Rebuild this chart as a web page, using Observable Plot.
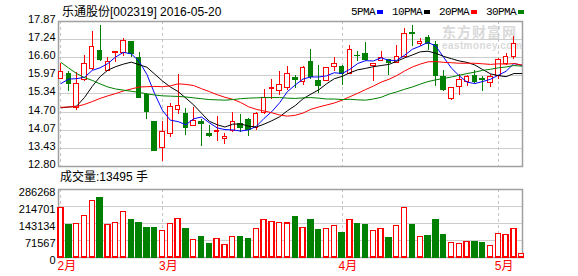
<!DOCTYPE html>
<html>
<head>
<meta charset="utf-8">
<script src="https://cdn.jsdelivr.net/npm/d3@7"></script>
<script src="https://cdn.jsdelivr.net/npm/@observablehq/plot@0.6"></script>
<style>
  body { margin: 0; background: #fff; }
  #chart { position: relative; width: 578px; height: 276px; overflow: hidden;
           font-family: "Liberation Sans", "Noto Sans CJK SC", sans-serif; color: #000; }
  #chart svg { position: absolute; left: 0; }
  .label { position: absolute; font-size: 12px; line-height: 14px; white-space: nowrap; }
  #legend { font-family: "Liberation Mono", "Noto Sans CJK SC", monospace; font-size: 11px; letter-spacing: -0.6px; }
  #legend .sw { display: inline-block; width: 6px; height: 4px; margin: 0 9px 1px 2px; vertical-align: middle; }
  #wm { position: absolute; left: 442px; top: 24px; color: #dadada; font-weight: bold; }
  #wm .cn { font-family: "Noto Sans CJK SC", sans-serif; font-size: 14px; line-height: 15px; letter-spacing: 1px; }
  #wm .en { font-family: "Liberation Sans", sans-serif; font-size: 10px; line-height: 10px; margin-top: 2px; letter-spacing: 0.4px; }
</style>
</head>
<body>
<div id="chart">
  <div id="wm"><div class="cn">东方财富网</div><div class="en">eastmoney.com</div></div>
  <div id="title" class="label" style="left:62px; top:5px;"></div>
  <div id="legend" class="label" style="left:351px; top:5px;"></div>
  <div id="volTitle" class="label" style="left:60px; top:170px;"></div>
</div>
<script>
// 乐通股份 daily K-line, 2016-02 .. 2016-05
const stockName = "乐通股份";
const stockCode = "002319";
const quoteDate = "2016-05-20";
const volumeUnit = "手";

const openPrice  = [15.87,16.03,14.83,15.84,16.20,16.83,16.15,16.76,16.78,17.14,
                    16.60,15.29,14.37,13.43,13.95,14.78,14.65,14.22,14.34,13.92,
                    14.00,13.75,14.03,14.29,14.43,14.15,14.68,15.50,15.45,15.53,
                    15.88,15.76,16.44,15.78,15.78,16.27,16.29,16.05,16.68,16.75,
                    16.31,16.48,16.52,16.43,16.64,17.46,17.10,17.30,17.04,15.94,
                    15.15,15.59,15.76,15.95,15.85,15.73,15.97,16.40,16.64,15.52];
const highPrice  = [16.41,16.11,16.09,16.69,17.53,17.72,16.62,16.82,17.28,17.18,
                    16.78,15.35,14.37,14.36,15.00,16.02,14.83,14.85,14.45,14.22,
                    14.54,13.95,14.68,14.62,14.48,14.68,15.50,15.85,16.11,16.29,
                    15.99,16.31,16.89,16.32,16.25,16.60,16.34,17.02,16.83,17.14,
                    16.40,16.81,16.55,17.02,17.63,17.74,17.28,17.39,17.18,16.17,
                    15.55,16.02,15.97,16.17,15.94,16.02,16.58,16.75,17.34,15.52];
const lowPrice   = [15.85,15.41,14.77,15.78,16.17,16.48,16.11,16.43,16.64,16.60,
                    15.18,14.45,13.33,12.96,13.80,14.62,13.89,14.21,13.51,13.80,
                    13.66,13.58,13.99,13.99,13.84,14.05,14.63,15.15,15.29,15.47,
                    15.53,15.64,15.85,15.35,15.76,16.13,15.64,16.02,16.48,16.48,
                    15.78,16.46,15.99,16.40,16.60,16.99,16.98,16.87,15.59,15.43,
                    15.12,15.29,15.61,15.70,15.43,15.55,15.85,16.34,16.55,15.52];
const closePrice = [16.09,15.68,15.69,16.37,16.99,16.51,16.46,16.81,17.18,16.75,
                    15.20,14.69,13.33,14.01,14.89,14.92,14.15,14.40,14.30,13.88,
                    14.03,13.84,14.34,14.13,14.06,14.64,15.21,15.56,15.66,16.02,
                    15.82,16.23,15.94,15.62,16.23,16.40,16.05,16.87,16.66,16.51,
                    16.37,16.60,16.43,16.64,17.42,17.43,17.14,17.07,15.97,15.47,
                    15.53,15.82,15.94,15.74,15.82,15.94,16.52,16.64,17.07,15.52];
const volume     = [209200,134700,141900,175500,238700,248400,137600,146000,192400,155800,
                    144500,122100,122100,112300,141900,162800,117900,74400,84200,54700,
                    78600,53300,87000,84200,75800,120700,158600,150200,146000,143100,
                    168400,125000,155800,113700,120700,133500,101000,158600,138900,134700,
                    112300,120700,80000,133500,209200,134700,87000,88400,155800,92600,
                    61900,57700,66100,63200,58900,49300,99800,95600,120700,13495];

// moving averages of the close (5, 10, 20, 30 days)
const ma5  = [15.70,15.86,15.87,15.92,16.16,16.25,16.40,16.63,16.79,16.74,
              16.48,16.02,15.34,14.76,14.42,14.37,14.26,14.47,14.53,14.33,
              14.15,14.09,14.08,14.04,14.08,14.20,14.48,14.72,15.03,15.42,
              15.65,15.86,15.93,15.93,15.97,16.08,16.05,16.20,16.40,16.50,
              16.49,16.60,16.51,16.51,16.69,16.90,17.01,17.14,17.01,16.62,
              16.24,15.97,15.75,15.70,15.77,15.85,15.99,16.13,16.40,16.34];
const ma10 = [14.85,14.88,14.91,15.21,15.60,15.94,16.17,16.29,16.38,16.45,
              16.36,16.27,16.03,15.79,15.58,15.42,15.19,14.95,14.66,14.38,
              14.26,14.18,14.28,14.29,14.21,14.18,14.28,14.40,14.54,14.75,
              14.93,15.17,15.33,15.48,15.69,15.87,15.95,16.08,16.18,16.23,
              16.29,16.33,16.37,16.48,16.60,16.70,16.81,16.83,16.76,16.65,
              16.57,16.49,16.44,16.35,16.19,16.04,15.98,15.94,16.05,16.05];
const ma20 = [14.87,14.88,14.90,14.97,15.07,15.18,15.27,15.35,15.44,15.51,
              15.58,15.59,15.60,15.59,15.62,15.69,15.67,15.63,15.52,15.42,
              15.31,15.22,15.15,15.04,14.89,14.80,14.74,14.68,14.60,14.56,
              14.59,14.67,14.80,14.88,14.95,15.02,15.12,15.24,15.36,15.49,
              15.61,15.75,15.85,15.98,16.14,16.28,16.38,16.46,16.47,16.44,
              16.43,16.41,16.41,16.41,16.39,16.37,16.39,16.38,16.40,16.35];
const ma30 = [16.44,16.24,16.05,15.91,15.81,15.69,15.58,15.51,15.47,15.43,
              15.39,15.34,15.30,15.27,15.26,15.25,15.23,15.20,15.17,15.14,
              15.13,15.12,15.14,15.17,15.19,15.20,15.21,15.21,15.21,15.19,
              15.18,15.20,15.21,15.19,15.16,15.16,15.14,15.15,15.13,15.12,
              15.16,15.22,15.33,15.41,15.50,15.58,15.68,15.77,15.83,15.88,
              15.93,15.99,16.05,16.10,16.16,16.20,16.25,16.28,16.33,16.31];

const maNames   = ["5PMA", "10PMA", "20PMA", "30PMA"];
const priceTicks  = [12.80, 13.43, 14.07, 14.70, 15.34, 15.97, 16.60, 17.24, 17.87];
const volumeTicks = [0, 71567, 143134, 214701, 286268];
const monthStart  = [0, 13, 36, 56];          // index of the first session shown in each month
const monthLabels = ["2月", "3月", "4月", "5月"];

// ---- styling ----
const RED = "#ff0000", GREEN = "#008000", FLAT = "#000000";
const maColors = ["#0000ff", "#000000", "#ff0000", "#008000"];
const GRID = "#cdcdcd", FRAME = "#a0a0a0", DASH = "#c4c4c4";

const bars = closePrice.map((c, i) => {
  const o = openPrice[i];
  const color = c > o ? RED : c < o ? GREEN : FLAT;
  return {
    i, open: o, close: c, high: highPrice[i], low: lowPrice[i],
    lo: Math.min(o, c), hi: Math.max(o, c), color,
    fill: c >= o && color !== GREEN ? "#ffffff" : color,
    vol: volume[i], volColor: c >= o ? RED : GREEN, volFill: c >= o ? "#ffffff" : GREEN
  };
});
const maSeries = [ma5, ma10, ma20, ma30].flatMap((s, k) =>
  s.map((v, i) => ({i, v, k})));

const xDomain = [-0.32, 59.1];
const svgStyle = {background: "transparent", overflow: "visible",
  fontFamily: '"Liberation Sans", "Noto Sans CJK SC", sans-serif', fontSize: "11px"};

// ---- price panel ----
const price = Plot.plot({
  width: 578, height: 170,
  marginLeft: 58, marginRight: 56, marginTop: 21, marginBottom: 4,
  style: svgStyle,
  x: {domain: xDomain, axis: null},
  y: {domain: [12.80, 17.87], axis: null},
  marks: [
    Plot.gridY(priceTicks, {stroke: GRID, strokeOpacity: 1, shapeRendering: "crispEdges"}),
    Plot.ruleX(monthStart, {stroke: DASH, strokeDasharray: "3,3", shapeRendering: "crispEdges"}),
    Plot.frame({stroke: FRAME, strokeWidth: 1.5}),
    Plot.axisY(priceTicks, {tickSize: 0, tickPadding: 3, dy: -2, fontSize: 11, label: null,
      tickFormat: d => d.toFixed(2), fill: "#000"}),
    Plot.ruleX(bars, {x: "i", y1: "low", y2: "high", stroke: "color", shapeRendering: "crispEdges"}),
    Plot.rect(bars, {x1: d => d.i - 0.29, x2: d => d.i + 0.29, y1: "lo", y2: "hi",
      fill: "fill", stroke: "color", strokeWidth: 1, shapeRendering: "crispEdges"}),
    Plot.line(maSeries, {x: "i", y: "v", z: "k", stroke: d => maColors[d.k], strokeWidth: 1})
  ]
});
price.style.top = "0px";

// ---- volume panel ----
const vol = Plot.plot({
  width: 578, height: 106,
  marginLeft: 58, marginRight: 56, marginTop: 19, marginBottom: 19,
  style: svgStyle,
  x: {domain: xDomain, axis: null},
  y: {domain: [0, 286268], axis: null},
  marks: [
    Plot.gridY(volumeTicks, {stroke: GRID, strokeOpacity: 1, shapeRendering: "crispEdges"}),
    Plot.ruleX(monthStart, {stroke: DASH, strokeDasharray: "3,3", shapeRendering: "crispEdges"}),
    Plot.frame({stroke: FRAME, strokeWidth: 1.5}),
    Plot.axisY(volumeTicks, {tickSize: 0, tickPadding: 3, dy: 3, fontSize: 11, label: null,
      tickFormat: d3.format("d"), fill: "#000"}),
    Plot.axisX(monthStart, {tickSize: 0, tickPadding: 4, dx: -3.5, textAnchor: "start", label: null,
      fontSize: 12, fill: RED, tickFormat: d => monthLabels[monthStart.indexOf(d)]}),
    Plot.rect(bars, {x1: d => d.i - 0.32, x2: d => d.i + 0.32, y1: 0, y2: "vol",
      fill: "volFill", stroke: "volColor", strokeWidth: 1.4, shapeRendering: "crispEdges"})
  ]
});
vol.style.top = "170px";

const chart = document.getElementById("chart");
chart.appendChild(price);
chart.appendChild(vol);

document.getElementById("title").textContent = `${stockName}[${stockCode}] ${quoteDate}`;
document.getElementById("legend").innerHTML = maNames
  .map((n, k) => `${n}<span class="sw" style="background:${maColors[k]}"></span>`).join("");
document.getElementById("volTitle").textContent =
  `成交量:${volume[volume.length - 1]} ${volumeUnit}`;
</script>
</body>
</html>
